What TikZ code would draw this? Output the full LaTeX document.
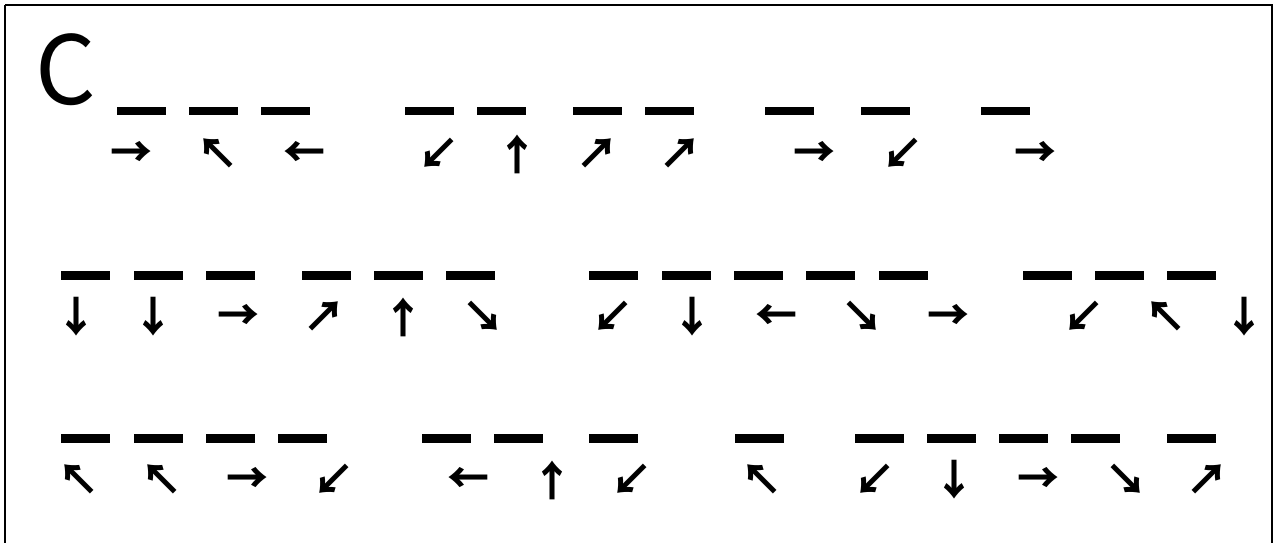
\documentclass[tikz,border=0pt]{standalone}
\usepackage{fontspec}
\newfontfamily\cjk{Noto Sans CJK JP}
\tikzset{
  bar/.style={fill=black, draw=none, minimum width=49pt, minimum height=8.5pt, inner sep=0pt, outer sep=0pt},
  arr/.style={font=\cjk\bfseries\fontsize{42}{42}\selectfont, inner sep=0pt, outer sep=0pt, anchor=center},
  frame/.style={draw=black, line width=2pt},
}
\begin{document}
\begin{tikzpicture}[x=1pt,y=-1pt]
\useasboundingbox (0,0) rectangle (1274,542);
\clip (0,0) rectangle (1274,542);
\fill[white] (0,0) rectangle (1274,542);
\draw[frame] (5,5) -- (1272,5) -- (1272,560) (5,5) -- (5,560);
\node[font=\cjk\fontsize{95}{95}\selectfont, inner sep=0pt, anchor=base west] (C) at (35,104) {C};
% row 1
\foreach \x [count=\i] in {141.5,213.5,285.5,429.5,501.5,597.5,669.5,789.5,885.5,1005.5}
  \node[bar] (ba\i) at (\x,111) {};
\foreach \x/\a [count=\i] in {131/→,217.5/↖,304/←,438/↙,517.5/↑,597.5/↗,680/↗,814.5/→,902/↙,1035.5/→}
  \node[arr] (aa\i) at (\x,154) {\a};
% row 2
\foreach \x [count=\i] in {85.5,158.5,230.5,326.5,398.5,470.5,613.5,686.5,758.5,830.5,903,1047,1119,1191}
  \node[bar] (bb\i) at (\x,275.5) {};
\foreach \x/\a [count=\i] in {76/↓,153/↓,238/→,324/↗,403/↑,483/↘,612/↙,692/↓,776/←,862/↘,948/→,1083/↙,1165/↖,1244/↓}
  \node[arr] (ab\i) at (\x,317) {\a};
% row 3
\foreach \x [count=\i] in {85.5,158.5,230.5,302.5,446.5,518.5,613.5,759,879,951,1023.5,1095.5,1191}
  \node[bar] (bc\i) at (\x,438.5) {};
\foreach \x/\a [count=\i] in {78.5/↖,161/↖,247/→,333.5/↙,468/←,552/↑,631/↙,761/↖,874.5/↙,954.5/↓,1038/→,1126/↘,1207.5/↗}
  \node[arr] (ac\i) at (\x,480) {\a};
\end{tikzpicture}
\end{document}
